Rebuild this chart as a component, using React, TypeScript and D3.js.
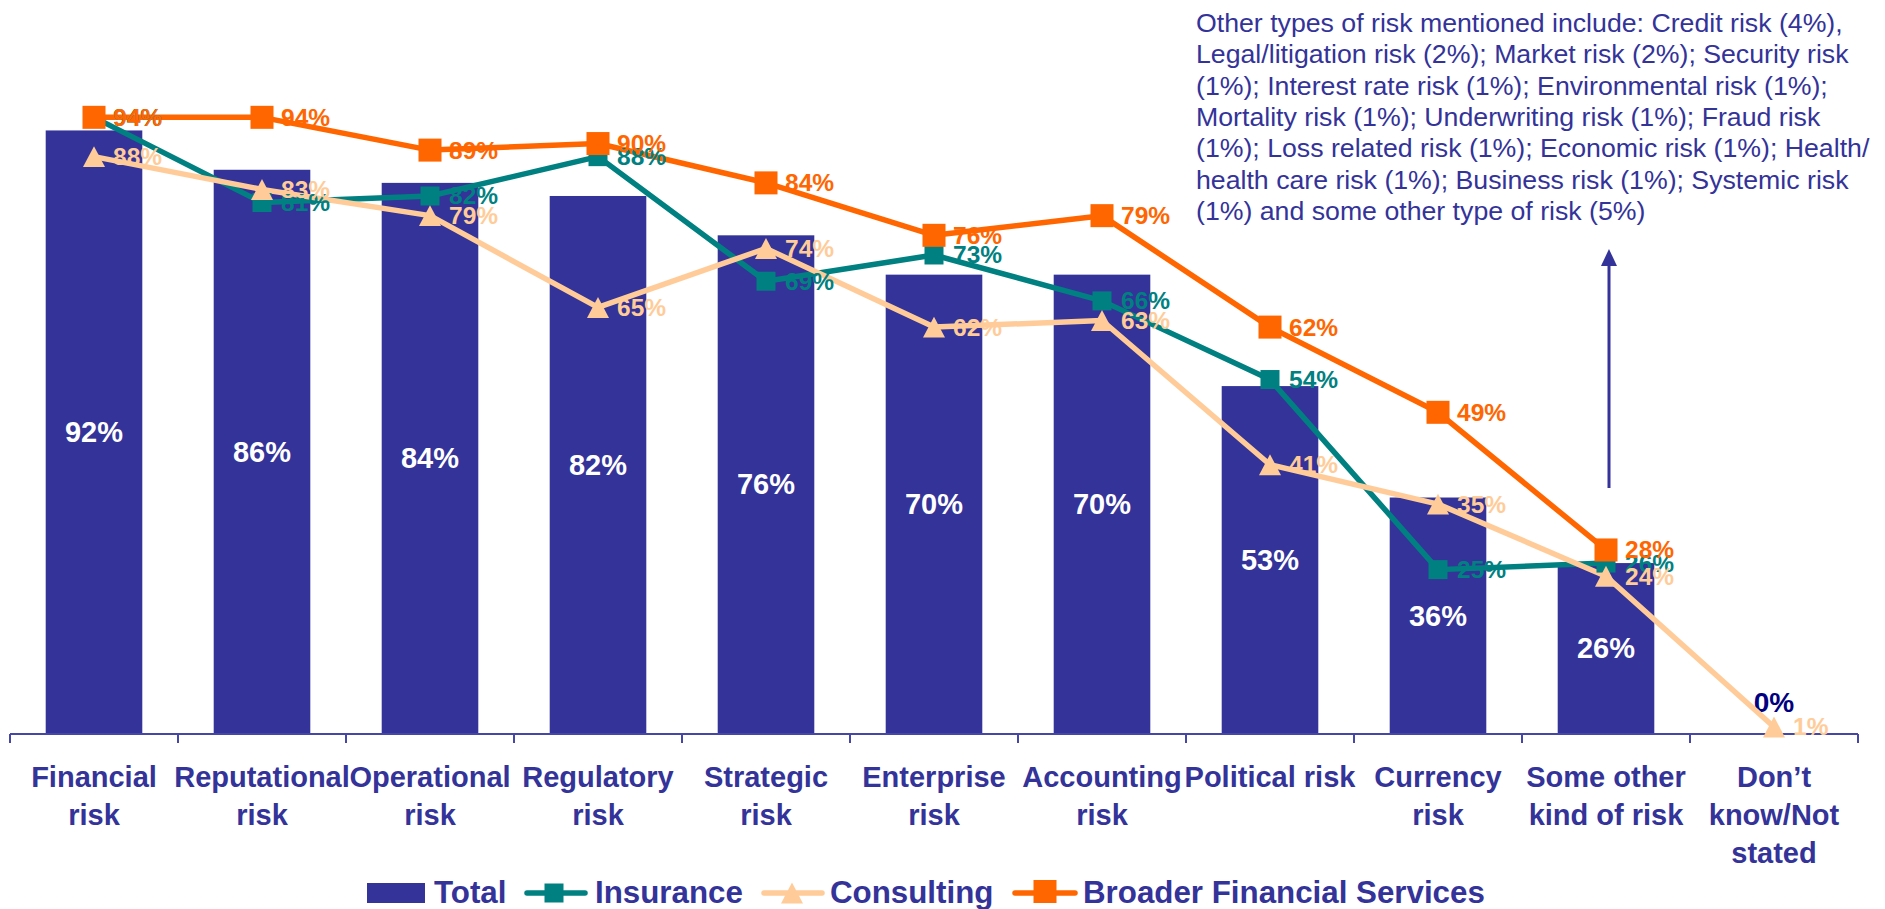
import React from "react";
import * as d3 from "d3";

const categories: string[][] = [
  ["Financial", "risk"],
  ["Reputational", "risk"],
  ["Operational", "risk"],
  ["Regulatory", "risk"],
  ["Strategic", "risk"],
  ["Enterprise", "risk"],
  ["Accounting", "risk"],
  ["Political risk"],
  ["Currency", "risk"],
  ["Some other", "kind of risk"],
  ["Don\u2019t", "know/Not", "stated"],
];

const totalValues: number[] = [92, 86, 84, 82, 76, 70, 70, 53, 36, 26, 0];
const insuranceValues: (number | null)[] = [94, 81, 82, 88, 69, 73, 66, 54, 25, 26, null];
const consultingValues: (number | null)[] = [88, 83, 79, 65, 74, 62, 63, 41, 35, 24, 1];
const broaderValues: (number | null)[] = [94, 94, 89, 90, 84, 76, 79, 62, 49, 28, null];

const noteLines: string[] = [
  "Other types of risk mentioned include: Credit risk (4%),",
  "Legal/litigation risk (2%); Market risk (2%); Security risk",
  "(1%); Interest rate risk (1%); Environmental risk (1%);",
  "Mortality risk (1%); Underwriting risk (1%); Fraud risk",
  "(1%); Loss related risk (1%); Economic risk (1%); Health/",
  "health care risk (1%); Business risk (1%); Systemic risk",
  "(1%) and some other type of risk (5%)",
];

const NAVY = "#333399";
const TEAL = "#008080";
const PEACH = "#FFCC99";
const ORANGE = "#FF6600";
const FONT = "'Liberation Sans', Arial, Helvetica, sans-serif";

const W = 1885;
const H = 909;

type Series = {
  name: string;
  values: (number | null)[];
  color: string;
  marker: "square" | "triangle";
  size: number;
};

const series: Series[] = [
  { name: "Insurance", values: insuranceValues, color: TEAL, marker: "square", size: 19 },
  { name: "Consulting", values: consultingValues, color: PEACH, marker: "triangle", size: 22 },
  { name: "Broader Financial Services", values: broaderValues, color: ORANGE, marker: "square", size: 23 },
];

function Marker({ kind, x, y, size, color }: { kind: string; x: number; y: number; size: number; color: string }) {
  if (kind === "square") {
    return <rect x={x - size / 2} y={y - size / 2} width={size} height={size} fill={color} />;
  }
  const h = size * 0.95;
  const pts = `${x},${y - h / 2} ${x + size / 2},${y + h / 2} ${x - size / 2},${y + h / 2}`;
  return <polygon points={pts} fill={color} />;
}

export default function App() {
  const idx = categories.map((_, i) => String(i));
  const x = d3.scaleBand<string>().domain(idx).range([10, 1858]).paddingInner(0.425).paddingOuter(0.2125);
  const y = d3.scaleLinear().domain([0, 100]).range([733.5, 78]);
  const cx = (i: number) => (x(String(i)) as number) + x.bandwidth() / 2;
  const baseY = y(0);
  const step = x.step();

  const lineGen = d3
    .line<number | null>()
    .defined((d) => d !== null)
    .x((_, i) => cx(i))
    .y((d) => y(d as number));

  const tickXs = d3.range(categories.length + 1).map((i) => 10 + i * step);

  return (
    <svg
      width={W}
      height={H}
      viewBox={`0 0 ${W} ${H}`}
      style={{ position: "absolute", left: 0, top: 0, background: "#fff" }}
      fontFamily={FONT}
    >
      {/* bars */}
      {totalValues.map((v, i) => (
        <rect
          key={"b" + i}
          x={x(String(i))}
          y={y(v)}
          width={x.bandwidth()}
          height={baseY - y(v)}
          fill={NAVY}
        />
      ))}
      {/* bar labels */}
      {totalValues.map((v, i) =>
        v > 0 ? (
          <text
            key={"bl" + i}
            x={cx(i)}
            y={(y(v) + baseY) / 2 + 10}
            textAnchor="middle"
            fontSize={29}
            fontWeight="bold"
            fill="#ffffff"
          >
            {v}%
          </text>
        ) : (
          <text
            key={"bl" + i}
            x={cx(i)}
            y={y(v) - 22}
            textAnchor="middle"
            fontSize={28}
            fontWeight="bold"
            fill="#000080"
          >
            {v}%
          </text>
        )
      )}

      {/* axis */}
      <line x1={10} x2={1858} y1={734} y2={734} stroke="#4646a6" strokeWidth={2} />
      {tickXs.map((tx, i) => (
        <line key={"t" + i} x1={tx} x2={tx} y1={734} y2={743} stroke="#4646a6" strokeWidth={2} />
      ))}

      {/* lines */}
      {series.map((s) => (
        <path
          key={"l" + s.name}
          d={lineGen(s.values) || ""}
          fill="none"
          stroke={s.color}
          strokeWidth={5.5}
          strokeLinejoin="round"
        />
      ))}
      {series.map((s) =>
        s.values.map((v, i) =>
          v === null ? null : (
            <Marker key={s.name + "m" + i} kind={s.marker} x={cx(i)} y={y(v)} size={s.size} color={s.color} />
          )
        )
      )}
      {series.map((s) =>
        s.values.map((v, i) =>
          v === null ? null : (
            <text
              key={s.name + "t" + i}
              x={cx(i) + 19}
              y={y(v) + 8.5}
              fontSize={24.5}
              fontWeight="bold"
              fill={s.color}
            >
              {v}%
            </text>
          )
        )
      )}

      {/* category labels */}
      {categories.map((lines, i) => (
        <text key={"c" + i} x={cx(i)} y={787} textAnchor="middle" fontSize={29} fontWeight="bold" fill={NAVY}>
          {lines.map((ln, j) => (
            <tspan key={j} x={cx(i)} dy={j === 0 ? 0 : 38}>
              {ln}
            </tspan>
          ))}
        </text>
      ))}

      {/* note */}
      <text x={1196} y={32} fontSize={26.7} fill={NAVY}>
        {noteLines.map((ln, j) => (
          <tspan key={j} x={1196} dy={j === 0 ? 0 : 31.3}>
            {ln}
          </tspan>
        ))}
      </text>

      {/* arrow */}
      <line x1={1609} x2={1609} y1={488} y2={262} stroke={NAVY} strokeWidth={3} />
      <polygon points="1609,249 1617,266 1601,266" fill={NAVY} />

      {/* legend */}
      <g fontSize={31.3} fontWeight="bold" fill={NAVY}>
        <rect x={367} y={883} width={58} height={20} fill={NAVY} />
        <text x={434} y={903}>Total</text>

        <line x1={527} x2={585} y1={893} y2={893} stroke={TEAL} strokeWidth={5.5} strokeLinecap="round" />
        <Marker kind="square" x={554} y={893} size={19} color={TEAL} />
        <text x={595} y={903}>Insurance</text>

        <line x1={764} x2={822} y1={893} y2={893} stroke={PEACH} strokeWidth={5.5} strokeLinecap="round" />
        <Marker kind="triangle" x={792} y={893} size={22} color={PEACH} />
        <text x={830} y={903}>Consulting</text>

        <line x1={1015} x2={1075} y1={893} y2={893} stroke={ORANGE} strokeWidth={5.5} strokeLinecap="round" />
        <Marker kind="square" x={1045} y={891.5} size={23} color={ORANGE} />
        <text x={1083} y={903}>Broader Financial Services</text>
      </g>
    </svg>
  );
}
